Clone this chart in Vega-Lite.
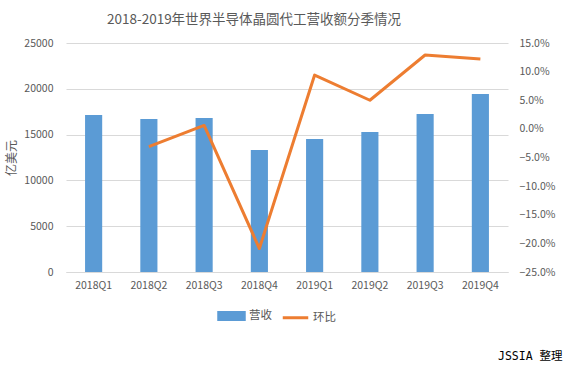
{
  "$schema": "https://vega.github.io/schema/vega-lite/v6.json",
  "width": 442,
  "height": 229,
  "autosize": {"type": "none"},
  "padding": {"left": 66, "top": 43, "right": 61, "bottom": 102},
  "background": "white",
  "title": {
    "text": "2018-2019年世界半导体晶圆代工营收额分季情况",
    "anchor": "start",
    "frame": "group",
    "dx": 41,
    "fontSize": 13.5,
    "fontWeight": "normal",
    "color": "#595959",
    "font": "Noto Sans CJK SC",
    "offset": 12
  },
  "config": {
    "view": {"stroke": null},
    "axis": {
      "labelFont": "Noto Sans CJK SC",
      "labelFontSize": 10.5,
      "labelColor": "#595959",
      "titleFont": "Noto Sans CJK SC",
      "titleColor": "#595959",
      "titleFontWeight": "normal",
      "ticks": false,
      "gridColor": "#D9D9D9",
      "domainColor": "#D9D9D9"
    }
  },
  "data": {
    "values": [
      {"quarter": "2018Q1", "revenue": 17150, "qoq": null},
      {"quarter": "2018Q2", "revenue": 16700, "qoq": -0.031},
      {"quarter": "2018Q3", "revenue": 16810, "qoq": 0.006},
      {"quarter": "2018Q4", "revenue": 13320, "qoq": -0.209},
      {"quarter": "2019Q1", "revenue": 14520, "qoq": 0.094},
      {"quarter": "2019Q2", "revenue": 15280, "qoq": 0.050},
      {"quarter": "2019Q3", "revenue": 17250, "qoq": 0.129},
      {"quarter": "2019Q4", "revenue": 19430, "qoq": 0.122}
    ]
  },
  "encoding": {
    "x": {
      "field": "quarter",
      "type": "nominal",
      "sort": null,
      "scale": {"paddingInner": 0.69, "paddingOuter": 0.345},
      "axis": {
        "labelAngle": 0,
        "labelPadding": 8,
        "grid": false,
        "domain": true,
        "title": "JSSIA 整理",
        "titleFont": "DejaVu Sans Mono, Noto Sans CJK SC",
        "titleFontSize": 11.5,
        "titleColor": "#000000",
        "titleAlign": "right",
        "titleAnchor": "end",
        "titleBaseline": "middle",
        "titleX": 496,
        "titleY": 84
      }
    }
  },
  "layer": [
    {
      "mark": {"type": "bar"},
      "encoding": {
        "y": {
          "field": "revenue",
          "type": "quantitative",
          "scale": {"domain": [0, 25000], "nice": false},
          "axis": {
            "values": [0, 5000, 10000, 15000, 20000, 25000],
            "format": "d",
            "grid": true,
            "domain": false,
            "labelPadding": 13,
            "title": "亿美元",
            "titleFontSize": 12,
            "titlePadding": 5
          }
        },
        "color": {
          "datum": "营收",
          "scale": {"domain": ["营收", "环比"], "range": ["#5B9BD5", "#ED7D31"]},
          "legend": {
            "orient": "none",
            "legendX": 151,
            "legendY": 258,
            "direction": "horizontal",
            "title": null,
            "padding": 0,
            "labelFont": "Noto Sans CJK SC",
            "labelFontSize": 11.5,
            "labelColor": "#595959",
            "symbolSize": 650,
            "columnPadding": 4,
            "labelOffset": 3,
            "encode": {
              "symbols": {
                "update": {
                  "shape": {"signal": "datum.value === '营收' ? 'M-1,-0.28H1V0.28H-1Z' : 'stroke'"},
                  "fill": {"signal": "datum.value === '营收' ? '#5B9BD5' : 'transparent'"},
                  "stroke": {"signal": "datum.value === '环比' ? '#ED7D31' : 'transparent'"},
                  "strokeWidth": {"value": 3},
                  "opacity": {"value": 1}
                }
              }
            }
          }
        }
      }
    },
    {
      "mark": {"type": "line", "strokeWidth": 3, "strokeJoin": "round"},
      "encoding": {
        "y": {
          "field": "qoq",
          "type": "quantitative",
          "scale": {"domain": [-0.25, 0.15], "nice": false},
          "axis": {
            "orient": "right",
            "format": ".1%",
            "values": [-0.25, -0.2, -0.15, -0.1, -0.05, 0, 0.05, 0.1, 0.15],
            "grid": false,
            "domain": false,
            "labelPadding": 11,
            "title": null
          }
        },
        "color": {"datum": "环比"}
      }
    }
  ],
  "resolve": {"scale": {"y": "independent"}}
}
